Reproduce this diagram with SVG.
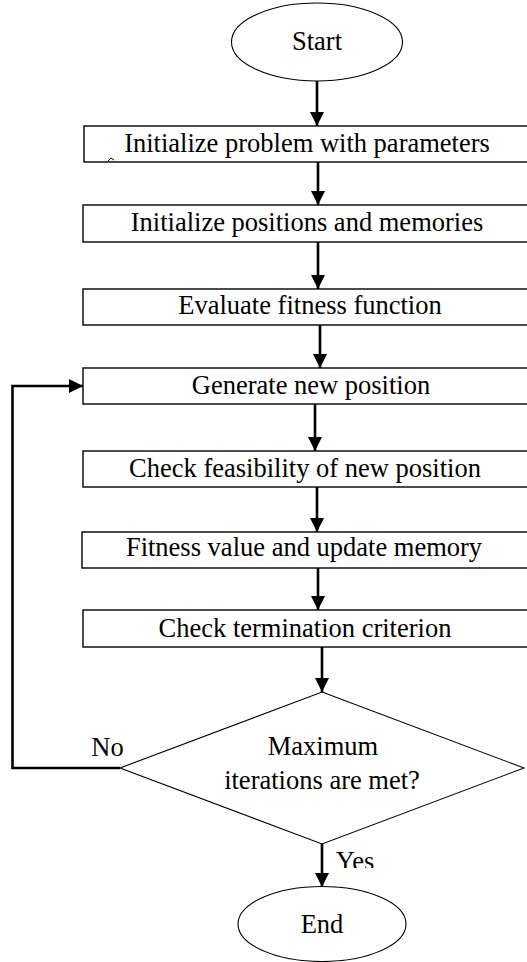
<svg xmlns="http://www.w3.org/2000/svg" width="527" height="962" viewBox="0 0 527 962">
<style>
.box{fill:#fff;stroke:#000;stroke-width:1.4}
.shape{fill:#fff;stroke:#000;stroke-width:1.1}
.t{font-size:26.5px;fill:#000;text-anchor:middle}
.c{fill:none;stroke:#000;stroke-width:2.6}
</style>
<defs>
<marker id="ah" markerUnits="userSpaceOnUse" markerWidth="14" markerHeight="14" refX="14" refY="7" orient="auto">
<path d="M0,0 L14,7 L0,14 z" fill="#000"/>
</marker>
<clipPath id="yesclip"><rect x="320" y="840" width="80" height="28"/></clipPath>
</defs>
<rect width="527" height="962" fill="#fff"/>
<g font-family="'Liberation Serif', 'Times New Roman', Times, 'DejaVu Serif', serif">
<g id="start"><ellipse class="shape" cx="317" cy="42" rx="85.5" ry="39"/><text class="t" x="317" y="50">Start</text></g>
<g id="init-problem"><rect class="box" x="84" y="126" width="450" height="36"/><path d="M108,161 l3,-3 l3,2" fill="none" stroke="#000" stroke-width="1"/><text class="t" x="307" y="152">Initialize problem with parameters</text></g>
<g id="init-positions"><rect class="box" x="83" y="205" width="451" height="37"/><text class="t" x="307" y="231">Initialize positions and memories</text></g>
<g id="evaluate"><rect class="box" x="83" y="289" width="451" height="36"/><text class="t" x="310" y="314">Evaluate fitness function</text></g>
<g id="generate"><rect class="box" x="83" y="368" width="451" height="36"/><text class="t" x="311" y="394">Generate new position</text></g>
<g id="feasibility"><rect class="box" x="83" y="451" width="451" height="36"/><text class="t" x="305" y="477">Check feasibility of new position</text></g>
<g id="fitness"><rect class="box" x="82" y="532" width="452" height="36"/><text class="t" x="304" y="556">Fitness value and update memory</text></g>
<g id="termination"><rect class="box" x="83" y="610" width="451" height="37"/><text class="t" x="305" y="637">Check termination criterion</text></g>
<g id="decision"><polygon class="shape" points="322,692 524,768 322,844 120,768"/><text class="t" x="323" y="755">Maximum</text><text class="t" x="322" y="789">iterations are met?</text></g>
<g id="end"><ellipse class="shape" cx="322" cy="924" rx="84" ry="37.5"/><text class="t" x="322" y="933">End</text></g>
<g id="connectors">
<line class="c" x1="317" y1="81" x2="317" y2="126" marker-end="url(#ah)"/>
<line class="c" x1="318" y1="162" x2="318" y2="205" marker-end="url(#ah)"/>
<line class="c" x1="318" y1="242" x2="318" y2="289" marker-end="url(#ah)"/>
<line class="c" x1="320" y1="325" x2="320" y2="368" marker-end="url(#ah)"/>
<line class="c" x1="315" y1="404" x2="315" y2="451" marker-end="url(#ah)"/>
<line class="c" x1="317" y1="487" x2="317" y2="532" marker-end="url(#ah)"/>
<line class="c" x1="318" y1="568" x2="318" y2="610" marker-end="url(#ah)"/>
<line class="c" x1="322" y1="647" x2="322" y2="692" marker-end="url(#ah)"/>
<line class="c" x1="322" y1="844" x2="322" y2="887" marker-end="url(#ah)"/>
<path class="c" d="M120,768 H12.5 V386 H83" marker-end="url(#ah)"/>
<text class="t" x="107.5" y="756">No</text>
<text class="t" x="355" y="870" clip-path="url(#yesclip)">Yes</text>
</g>
</g>
</svg>
